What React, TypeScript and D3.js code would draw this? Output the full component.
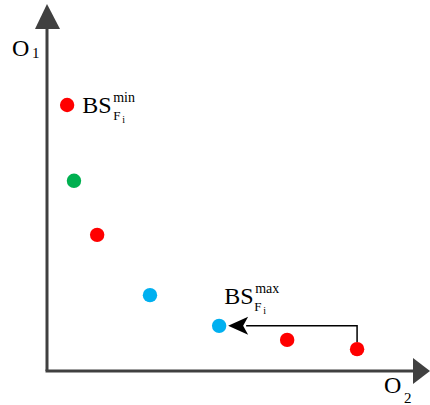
import React from "react";
import * as d3 from "d3";

// Objective-space points (O2, O1) in abstract units
const pointO2 = [5.3, 7.1, 13.2, 27.1, 45.3, 63.2, 81.6];
const pointO1 = [71.9, 51.4, 36.8, 20.5, 12.2, 8.4, 5.9];
const pointGroup = ["red", "green", "red", "blue", "blue", "red", "red"];
const groupColors: Record<string, string> = { red: "#FF0000", green: "#00B050", blue: "#00B0F0" };

// Shift arrow: from point index 6 (max) up and left to point index 4
const arrowFrom = 6;
const arrowTo = 4;

const W = 430;
const H = 405;
const font = "'Liberation Serif', 'Times New Roman', serif";

export default function App() {
  const x = d3.scaleLinear().domain([0, 100]).range([47, 427]);
  const y = d3.scaleLinear().domain([0, 100]).range([371, 1]);
  const axisColor = "#404040";

  const x0 = x(0);
  const y0 = y(0);

  const fx = x(pointO2[arrowFrom]);
  const fy = y(pointO1[arrowFrom]);
  const tx = x(pointO2[arrowTo]);
  const ty = y(pointO1[arrowTo]);
  const tipX = tx + 9;

  const path = d3.path();
  path.moveTo(fx, fy - 7);
  path.lineTo(fx, ty);
  path.lineTo(tipX + 18, ty);

  const minLabelX = x(pointO2[0]) + 15;
  const minLabelY = y(pointO1[0]) + 8;
  const maxLabelX = tx + 5;
  const maxLabelY = ty - 22;

  return (
    <div style={{ position: "absolute", left: 0, top: 0 }}>
      <svg width={W} height={H} style={{ display: "block", background: "#fff" }}>
        {/* axes */}
        <line x1={x0} y1={y0} x2={x0} y2={26} stroke={axisColor} strokeWidth={3} />
        <polygon points={`${x0},4 ${x0 - 12},29 ${x0 + 13},29`} fill={axisColor} />
        <line x1={x0 - 1.5} y1={y0} x2={415} y2={y0} stroke={axisColor} strokeWidth={3} />
        <polygon points={`430,${y0} 413,${y0 - 13} 413,${y0 + 13}`} fill={axisColor} />

        {/* axis labels */}
        <text x={12} y={56} fontFamily={font} fontSize={24} fill="#000">O</text>
        <text x={32} y={58} fontFamily={font} fontSize={15} fill="#000">1</text>
        <text x={384} y={393} fontFamily={font} fontSize={24} fill="#000">O</text>
        <text x={404} y={403} fontFamily={font} fontSize={15} fill="#000">2</text>

        {/* arrow */}
        <path d={path.toString()} fill="none" stroke="#000" strokeWidth={1.5} />
        <polygon points={`${tipX},${ty} ${tipX + 20},${ty - 9} ${tipX + 15},${ty} ${tipX + 20},${ty + 9}`} fill="#000" />

        {/* points */}
        {pointO2.map((v, i) => (
          <circle key={i} cx={x(v)} cy={y(pointO1[i])} r={7.2} fill={groupColors[pointGroup[i]]} />
        ))}

        {/* BS min label */}
        <text x={minLabelX} y={minLabelY} fontFamily={font} fontSize={24} fill="#000">BS</text>
        <text x={minLabelX + 31} y={minLabelY - 11} fontFamily={font} fontSize={14} fill="#000">min</text>
        <text x={minLabelX + 31} y={minLabelY + 7} fontFamily={font} fontSize={13} fill="#000">F</text>
        <text x={minLabelX + 40} y={minLabelY + 10} fontFamily={font} fontSize={10} fill="#000">i</text>

        {/* BS max label */}
        <text x={maxLabelX} y={maxLabelY} fontFamily={font} fontSize={24} fill="#000">BS</text>
        <text x={maxLabelX + 31} y={maxLabelY - 11} fontFamily={font} fontSize={14} fill="#000">max</text>
        <text x={maxLabelX + 30} y={maxLabelY + 7} fontFamily={font} fontSize={13} fill="#000">F</text>
        <text x={maxLabelX + 39} y={maxLabelY + 10} fontFamily={font} fontSize={10} fill="#000">i</text>
      </svg>
    </div>
  );
}
